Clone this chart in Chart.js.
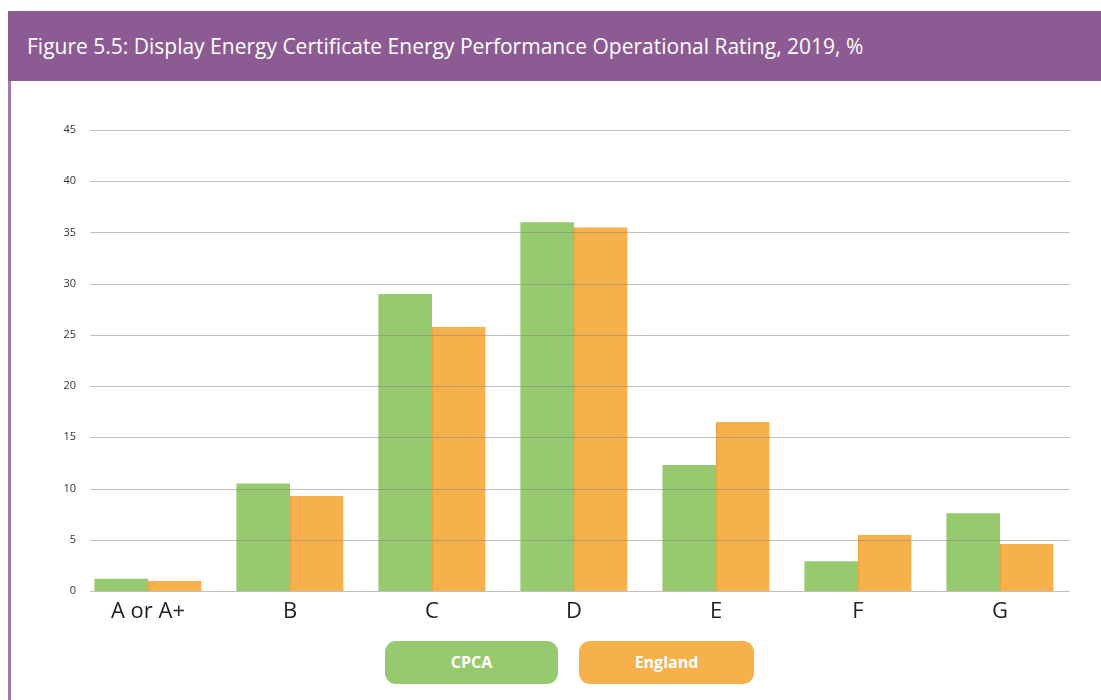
<!DOCTYPE html>
<html>
<head>
<meta charset="utf-8">
<script src="https://cdn.jsdelivr.net/npm/chart.js@4.4.1/dist/chart.umd.min.js"></script>
<style>
  html, body { margin: 0; padding: 0; background: #fff; }
  body { width: 1101px; height: 700px; position: relative; overflow: hidden; font-family: "Open Sans", sans-serif; }
  #header { position: absolute; left: 8px; top: 11px; width: 1093px; height: 70px; background: #8D5B93; }
  #title { position: absolute; left: 19px; top: 0; line-height: 70px; color: #fff; font-size: 21px; white-space: nowrap; }
  #leftbar { position: absolute; left: 8px; top: 81px; width: 3px; height: 619px; background: #A17BA8; }
  #wrap { position: absolute; left: 0; top: 0; width: 1101px; height: 700px; }
  #legend { position: absolute; top: 641px; left: 0; width: 1101px; height: 43px; }
  .lg { position: absolute; top: 0; height: 43px; border-radius: 11px; color: #fff; font-weight: bold; font-size: 16px; text-align: center; line-height: 43px; }
</style>
</head>
<body>
<div id="wrap"><canvas id="c" width="1101" height="700"></canvas></div>
<div id="header"><div id="title">Figure 5.5: Display Energy Certificate Energy Performance Operational Rating, 2019, %</div></div>
<div id="leftbar"></div>
<div id="legend"></div>
<script>
const categories = ["A or A+", "B", "C", "D", "E", "F", "G"];
const cpcaValues = [1.2, 10.5, 29.0, 36.0, 12.3, 2.9, 7.6];
const englandValues = [1.0, 9.3, 25.8, 35.5, 16.5, 5.5, 4.6];
const seriesLabels = ["CPCA", "England"];
const seriesColors = ["#97CA6E", "#F6B14C"];
const yTicks = [0, 5, 10, 15, 20, 25, 30, 35, 40, 45];

const gridPlugin = {
  id: 'customGrid',
  afterDatasetsDraw(chart) {
    const ctx = chart.ctx;
    const y = chart.scales.y;
    ctx.save();
    ctx.strokeStyle = 'rgba(130,130,130,0.5)';
    ctx.lineWidth = 1;
    y.ticks.forEach(t => {
      const py = Math.round(y.getPixelForValue(t.value)) + 0.5;
      ctx.beginPath();
      ctx.moveTo(90, py);
      ctx.lineTo(1070, py);
      ctx.stroke();
    });
    ctx.restore();
  }
};

const chart = new Chart(document.getElementById('c'), {
  type: 'bar',
  data: {
    labels: categories,
    datasets: [
      { label: seriesLabels[0], data: cpcaValues, backgroundColor: seriesColors[0], borderWidth: 0 },
      { label: seriesLabels[1], data: englandValues, backgroundColor: seriesColors[1], borderColor: '#E9A23C', borderWidth: {left: 1, right: 0, top: 0, bottom: 0} }
    ]
  },
  options: {
    responsive: false,
    animation: false,
    layout: { padding: { left: 37, right: 30, top: 130, bottom: 69 } },
    datasets: { bar: { categoryPercentage: 0.755, barPercentage: 1.0 } },
    plugins: { legend: { display: false }, tooltip: { enabled: false }, title: { display: false } },
    scales: {
      x: {
        grid: { display: false, drawTicks: false },
        border: { display: false },
        ticks: { color: '#222', font: { family: 'Open Sans', size: 22 }, padding: 8, maxRotation: 0 },
        afterFit(s) { s.height = 40; }
      },
      y: {
        min: 0, max: 45,
        afterBuildTicks(s) { s.ticks = yTicks.map(v => ({ value: v })); },
        grid: { display: false, drawTicks: false },
        border: { display: false },
        ticks: { color: '#333', font: { family: 'Open Sans', size: 11 }, padding: 1 },
        afterFit(s) { s.width = 40; }
      }
    }
  },
  plugins: [gridPlugin]
});

// legend
const legend = document.getElementById('legend');
const lefts = [385, 579];
const widths = [173, 175];
chart.data.datasets.forEach((ds, i) => {
  const d = document.createElement('div');
  d.className = 'lg';
  d.style.left = lefts[i] + 'px';
  d.style.width = widths[i] + 'px';
  d.style.background = ds.backgroundColor;
  d.textContent = ds.label;
  legend.appendChild(d);
});
</script>
</body>
</html>
